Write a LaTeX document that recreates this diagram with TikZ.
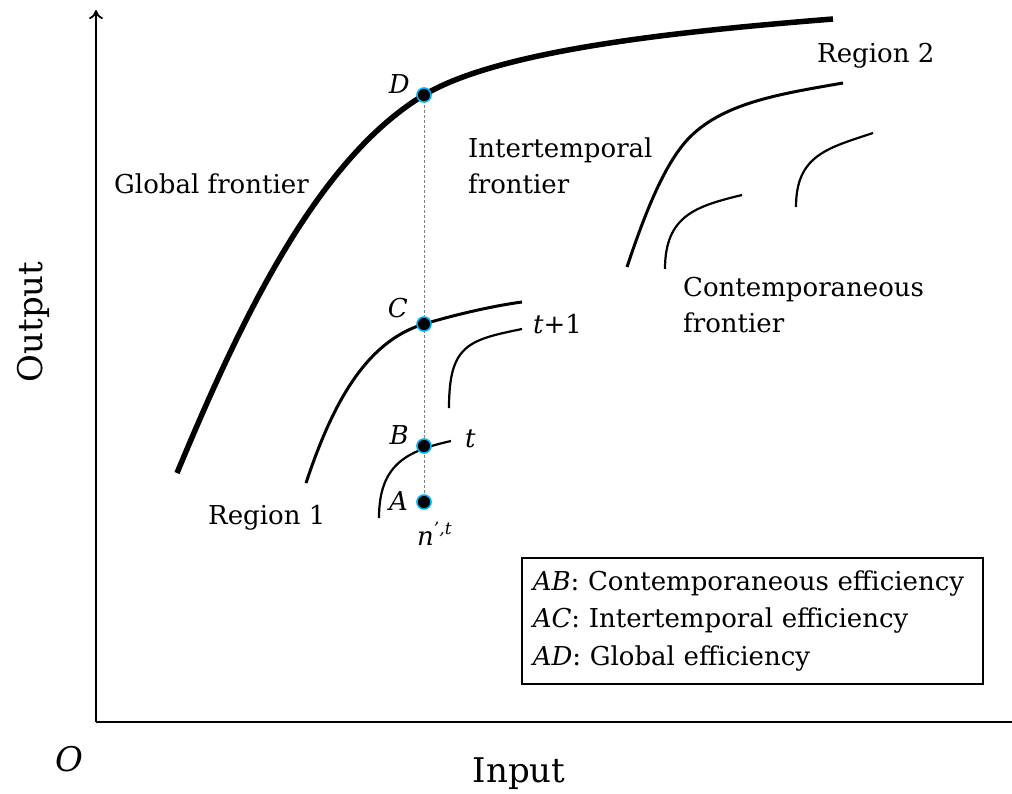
\documentclass[tikz,border=0pt]{standalone}
\usepackage{fontspec}
\setmainfont{DejaVu Serif}
\usetikzlibrary{arrows.meta}
\pgfdeclarelayer{background}
\pgfsetlayers{background,main}
\definecolor{dotblue}{RGB}{0,176,240}
\begin{document}
\begin{tikzpicture}[x=1pt,y=-1pt,
  txt/.style={font=\fontsize{26}{36}\selectfont, inner sep=0pt},
  axtxt/.style={font=\fontsize{34}{40}\selectfont, inner sep=0pt},
  glob/.style={line width=5.5pt},
  inter/.style={line width=3pt},
  cont/.style={line width=2.2pt},
  dotpt/.style={circle, fill=black, draw=dotblue, line width=1.6pt, minimum size=14pt, inner sep=0pt},
  guide/.style={draw=gray, line width=1pt, dash pattern=on 3pt off 2pt},
  axis/.style={line width=1.8pt, -{To[length=9pt,width=14pt]}},
  legend/.style={draw, line width=1.5pt, font=\fontsize{26}{37.5}\selectfont, align=left,
    text width=439pt, inner xsep=11pt, minimum height=126pt}
]
\useasboundingbox (0,0) rectangle (1012,793);

% axes
\coordinate (O) at (96,722);
\coordinate (ytip) at (96,10);
\coordinate (xtip) at (1021,722);
\draw[axis] (O) -- (ytip);
\draw[axis] (O) -- (xtip);

% points
\node[dotpt] (D) at (424,95) {};
\node[dotpt] (C) at (424,324) {};
\node[dotpt] (B) at (424,446) {};
\node[dotpt] (A) at (424,502) {};

\begin{pgfonlayer}{background}
% global frontier
\draw[glob] (177,473) .. controls (237,329) and (314,161) .. (D.center)
                      .. controls (500,49.4) and (683,31) .. (833,19);
% region 1 intertemporal frontier
\draw[inter] (306,483) .. controls (331,408) and (364,342) .. (C.center)
                       .. controls (454,315) and (492,306) .. (522,302);
% region 1 contemporaneous frontiers
\draw[cont] (449,408) .. controls (449,345) and (468,340) .. (522,329);
\draw[cont] (379,518) .. controls (379,465) and (406,451) .. (451,441);
% region 2 intertemporal frontier
\draw[inter] (627,267) .. controls (645,213) and (665,162) .. (690,137)
                       .. controls (725,102) and (783,93.5) .. (843,83);
% region 2 contemporaneous frontiers
\draw[cont] (665,269) .. controls (665,215) and (697,206) .. (742,195);
\draw[cont] (796,207) .. controls (796,155) and (828,148) .. (873,133);
% guide line
\draw[guide] (D.center) -- (A.center);
\end{pgfonlayer}

% point labels
\node[txt, anchor=base east] (lD) at (410,93) {\itshape D};
\node[txt, anchor=base east] (lC) at (408,317) {\itshape C};
\node[txt, anchor=base east] (lB) at (409,444) {\itshape B};
\node[txt, anchor=base east] (lA) at (408,510) {\itshape A};
\node[txt, anchor=base west] (lt) at (465,447) {\itshape t};
\node[txt, anchor=base west] (lt1) at (533,333) {{\itshape t}+1};
\node[txt, anchor=base west] (ln) at (417,545) {{\itshape n}\raisebox{0.42em}{\fontsize{17}{20}\selectfont\itshape ’,t}};

% text labels
\node[txt, anchor=base west] (glab) at (114,193) {Global frontier};
\node[txt, anchor=west, align=left] (ilab) at (468,166) {Intertemporal\\frontier};
\node[txt, anchor=base west] (r2) at (817,62) {Region 2};
\node[txt, anchor=west, align=left] (clab) at (683,305) {Contemporaneous\\frontier};
\node[txt, anchor=base west] (r1) at (208,524) {Region 1};

% axis labels
\node[axtxt, rotate=90, anchor=base] (out) at (42,322) {Output};
\node[axtxt, anchor=base] (inp) at (519,782) {Input};
\node[axtxt, anchor=base west] (olab) at (55,771) {\itshape O};

% legend
\node[legend, anchor=north west] (leg) at (521,557) {{\itshape AB}: Contemporaneous efficiency\\{\itshape AC}: Intertemporal efficiency\\{\itshape AD}: Global efficiency};
\end{tikzpicture}
\end{document}
